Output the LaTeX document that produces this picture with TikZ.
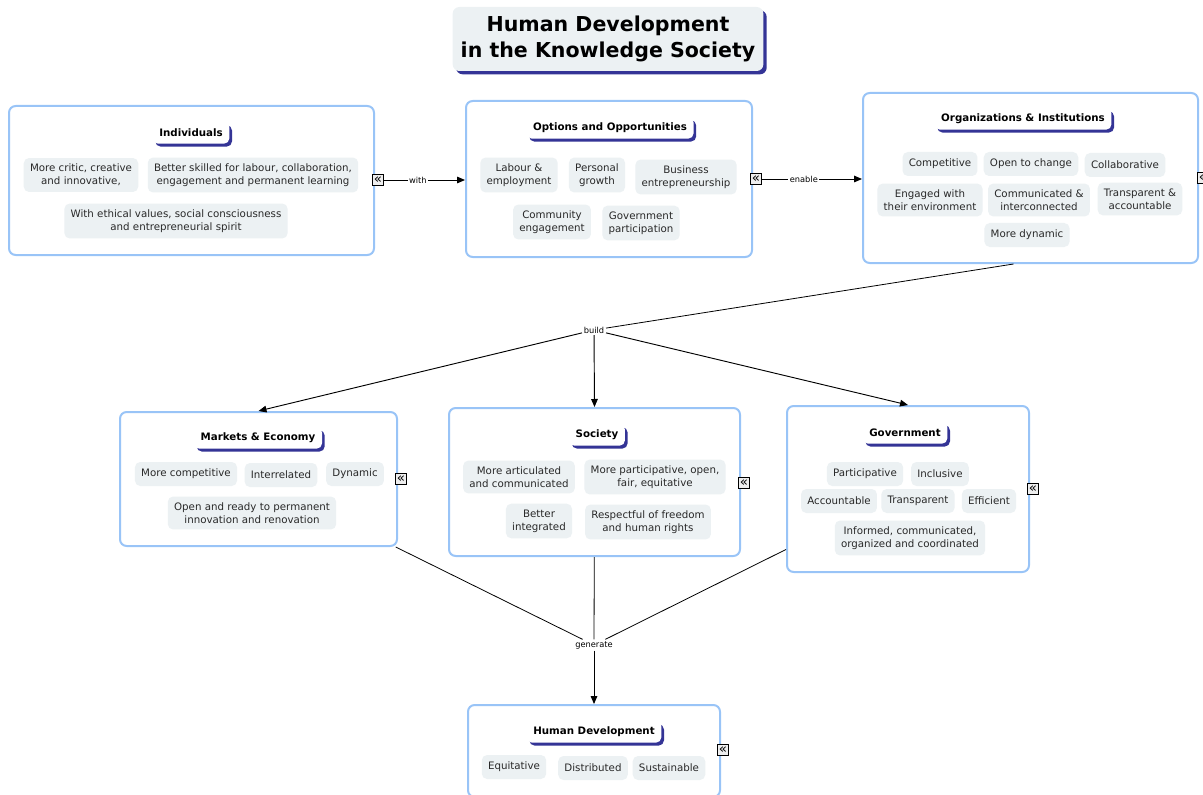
\documentclass[tikz,border=0pt]{standalone}
\usepackage{fontspec}
\setmainfont{DejaVu Sans}
\usepackage{tikz}
\usetikzlibrary{positioning}
\usetikzlibrary{fit,calc,shadows,arrows.meta}
\definecolor{boxblue}{RGB}{153,196,247}
\definecolor{chipgray}{RGB}{236,241,243}
\definecolor{tabblue}{RGB}{52,52,150}
\definecolor{chiptext}{RGB}{40,40,40}
\definecolor{markgray}{RGB}{238,238,238}
\tikzset{
	bigbox/.style={draw=boxblue,line width=1.5pt,rounded corners=5pt,fill=white,inner sep=0pt},
	chip/.style={fill=chipgray,rounded corners=4pt,align=center,inner xsep=4.7pt,inner ysep=4.5pt,minimum height=18pt,text=chiptext,font=\fontsize{7.7}{9.75}\selectfont},
	headtab/.style={fill=white,rounded corners=4pt,inner xsep=5pt,minimum height=16pt,font=\bfseries\fontsize{7.7}{9.75}\selectfont,general shadow={fill=tabblue,shadow xshift=2pt,shadow yshift=-2.2pt}},
	titlebox/.style={fill=chipgray,rounded corners=5pt,align=center,minimum width=233pt,minimum height=48pt,font=\bfseries\fontsize{15.4}{20}\selectfont,general shadow={fill=tabblue,shadow xshift=2.5pt,shadow yshift=-2.5pt}},
	foldmark/.style={draw,line width=0.6pt,fill=markgray,minimum size=8pt,inner sep=0pt,font=\fontsize{10}{10}\selectfont},
	lbl/.style={fill=white,inner sep=1.2pt,font=\fontsize{6.2}{7}\selectfont},
	conn/.style={draw,line width=0.7pt,-{Triangle[length=6pt,width=5pt]}},
	plain/.style={draw,line width=0.6pt}
}

\begin{document}
\begin{tikzpicture}[x=0.75pt,y=-0.75pt]
				\useasboundingbox (0,0) rectangle (1203,795);
				%Title
				\node[titlebox] (title) at (608,39) {Human Development\\in the Knowledge Society};

				%Boxes
				\node[bigbox,fit={(9,106) (374,255)}] (ind) {};
				\node[bigbox,fit={(466,101) (752,257)}] (opt) {};
				\node[bigbox,fit={(863,93) (1198,263)}] (org) {};
				\node[bigbox,fit={(120,412) (397,546)}] (mkt) {};
				\node[bigbox,fit={(449,408) (740,556)}] (soc) {};
				\node[bigbox,fit={(787,406) (1029,572)}] (gov) {};
				\node[bigbox,fit={(468,705) (720,797)}] (hd) {};

				%Individuals
				\node[headtab] (indh) at (191,133) {Individuals};
				\node[chip] (ind1) at (81,175) {More critic, creative\\and innovative,};
				\node[chip] (ind2) at (253,175) {Better skilled for labour, collaboration,\\engagement and permanent learning};
				\node[chip] (ind3) at (176,221) {With ethical values, social consciousness\\and entrepreneurial spirit};

				%Options and Opportunities
				\node[headtab] (opth) at (610,128) {Options and Opportunities};
				\node[chip] (opt1) at (519,175) {Labour \&\\employment};
				\node[chip] (opt2) at (597,175) {Personal\\growth};
				\node[chip] (opt3) at (686,177) {Business\\entrepreneurship};
				\node[chip] (opt4) at (552,222) {Community\\engagement};
				\node[chip] (opt5) at (641,223) {Government\\participation};

				%Organizations
				\node[headtab] (orgh) at (1023,119) {Organizations \& Institutions};
				\node[chip] (org1) at (940,164) {Competitive};
				\node[chip] (org2) at (1031,164) {Open to change};
				\node[chip] (org3) at (1125,165) {Collaborative};
				\node[chip] (org4) at (930,200) {Engaged with\\their environment};
				\node[chip] (org5) at (1039,200) {Communicated \&\\interconnected};
				\node[chip] (org6) at (1140,199) {Transparent \&\\accountable};
				\node[chip] (org7) at (1027,235) {More dynamic};

				%Markets
				\node[headtab] (mkth) at (258,438) {Markets \& Economy};
				\node[chip] (mkt1) at (186,474) {More competitive};
				\node[chip] (mkt2) at (281,475) {Interrelated};
				\node[chip] (mkt3) at (355,474) {Dynamic};
				\node[chip] (mkt4) at (252,513) {Open and ready to permanent\\innovation and renovation};

				%Society
				\node[headtab] (soch) at (597,435) {Society};
				\node[chip] (soc1) at (519,477) {More articulated\\and communicated};
				\node[chip] (soc2) at (655,477) {More participative, open,\\fair, equitative};
				\node[chip] (soc3) at (539,521) {Better\\integrated};
				\node[chip] (soc4) at (648,522) {Respectful of freedom\\and human rights};

				%Government
				\node[headtab] (govh) at (905,433) {Government};
				\node[chip] (gov1) at (865,474) {Participative};
				\node[chip] (gov2) at (940,474) {Inclusive};
				\node[chip] (gov3) at (839,501) {Accountable};
				\node[chip] (gov4) at (918,501) {Transparent};
				\node[chip] (gov5) at (989,501) {Efficient};
				\node[chip] (gov6) at (910,538) {Informed, communicated,\\organized and coordinated};

				%Human Development
				\node[headtab] (hdh) at (594,732) {Human Development};
				\node[chip] (hd1) at (514,767) {Equitative};
				\node[chip] (hd2) at (593,768) {Distributed};
				\node[chip] (hd3) at (669,768) {Sustainable};

				%Markers
				\node[foldmark] (m1) at (378,180) {«};
				\node[foldmark] (m2) at (756,179) {«};
				\node[foldmark] (m3) at (1203,178) {«};
				\node[foldmark] (m4) at (401,479) {«};
				\node[foldmark] (m5) at (744,483) {«};
				\node[foldmark] (m6) at (1033,489) {«};
				\node[foldmark] (m7) at (723,750) {«};

				%Lines
				\node[lbl] (build) at (594,330) {build};
				\node[lbl] (gen) at (594,645) {generate};
				\draw[conn] (m1.east) -- node[lbl,pos=0.42] {with} (opt.west |- m1);
				\draw[conn] (m2.east) -- node[lbl,pos=0.42] {enable} (org.west |- m2);
				\draw[plain] ($(org.south)+(-17,0)$) -- (build);
				\draw[conn] (build) -- (mkt.north);
				\draw[conn] (build) -- (soc.north);
				\draw[conn] (build) -- (gov.north);
				\draw[plain] (mkt) -- (gen);
				\draw[plain] (soc) -- (gen);
				\draw[plain] (gov) -- (gen);
				\draw[conn] (gen) -- (hd.north);

\end{tikzpicture}
\end{document}
